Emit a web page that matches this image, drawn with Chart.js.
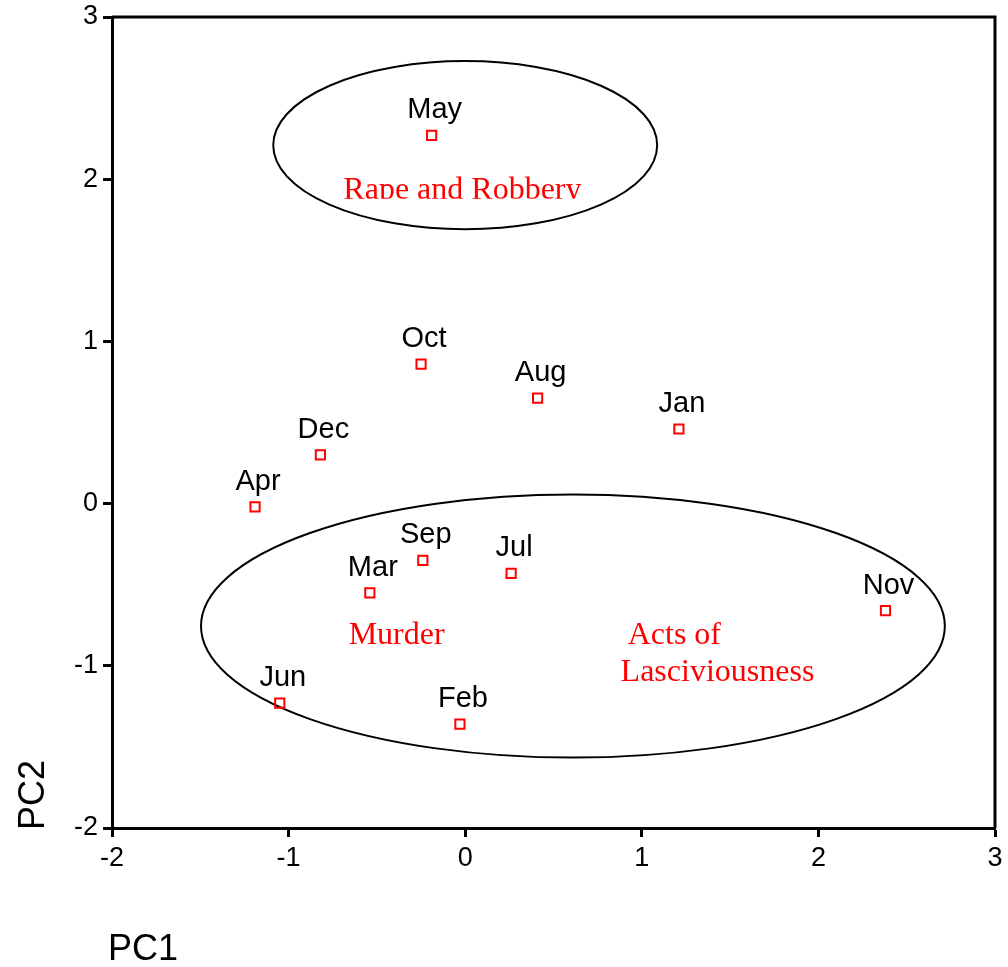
<!DOCTYPE html>
<html>
<head>
<meta charset="utf-8">
<script src="https://cdn.jsdelivr.net/npm/chart.js@4"></script>
<style>
  html, body { margin: 0; padding: 0; background: #fff; }
  #wrap { position: relative; width: 1008px; height: 967px; }
</style>
</head>
<body>
<div id="wrap"><canvas id="pcaChart" width="1008" height="967"></canvas></div>
<script>
// scores on the first two principal components, one point per month
const months = ['May', 'Oct', 'Aug', 'Jan', 'Dec', 'Apr', 'Sep', 'Jul', 'Mar', 'Nov', 'Jun', 'Feb'];
const pc1 = [-0.19, -0.25, 0.41, 1.21, -0.82, -1.19, -0.24, 0.26, -0.54, 2.38, -1.05, -0.03];
const pc2 = [2.27, 0.86, 0.65, 0.46, 0.30, -0.02, -0.35, -0.43, -0.55, -0.66, -1.23, -1.36];

const xTicks = [-2, -1, 0, 1, 2, 3];
const yTicks = [-2, -1, 0, 1, 2, 3];

// group ellipses (data units)
const ellipseCx = [0, 0.61];
const ellipseCy = [2.21, -0.755];
const ellipseRx = [1.087, 2.106];
const ellipseRy = [0.518, 0.811];

// group labels, anchored at left / baseline in data units
const groupText = ['Rape and Robbery', 'Murder', 'Acts of', 'Lasciviousness'];
const groupX = [-0.69, -0.66, 0.92, 0.88];
const groupY = [1.88, -0.863, -0.863, -1.091];

const ellipsePlugin = {
  id: 'ellipses',
  beforeDatasetsDraw(chart) {
    const { ctx, scales: { x, y } } = chart;
    ctx.save();
    ctx.strokeStyle = '#000';
    ctx.lineWidth = 2;
    ellipseCx.forEach((cx, i) => {
      const px = x.getPixelForValue(cx);
      const py = y.getPixelForValue(ellipseCy[i]);
      const rx = x.getPixelForValue(cx + ellipseRx[i]) - px;
      const ry = py - y.getPixelForValue(ellipseCy[i] + ellipseRy[i]);
      ctx.beginPath();
      ctx.ellipse(px, py, rx, ry, 0, 0, Math.PI * 2);
      ctx.stroke();
    });

    ctx.fillStyle = '#ff0000';
    ctx.font = '32px "Liberation Serif", "Times New Roman", serif';
    ctx.textAlign = 'left';
    ctx.textBaseline = 'alphabetic';
    groupText.forEach((t, i) => {
      const px = x.getPixelForValue(groupX[i]);
      const py = y.getPixelForValue(groupY[i]);
      ctx.save();
      if (i === 0) {
        // the original label box cuts the text off at its baseline
        ctx.beginPath();
        ctx.rect(px - 5, py - 40, 400, 40);
        ctx.clip();
      }
      ctx.fillText(t, px, py);
      ctx.restore();
    });
    ctx.restore();
  },
  afterDatasetsDraw(chart) {
    const { ctx, chartArea: a } = chart;
    const meta = chart.getDatasetMeta(0);
    ctx.save();
    ctx.fillStyle = '#000';
    ctx.font = '29px "Liberation Sans", Arial, sans-serif';
    ctx.textAlign = 'center';
    ctx.textBaseline = 'alphabetic';
    meta.data.forEach((pt, i) => {
      ctx.fillText(months[i], pt.x + 3, pt.y - 17);
    });

    // box top and right
    ctx.strokeStyle = '#000';
    ctx.lineWidth = 3;
    ctx.beginPath();
    ctx.moveTo(a.left, a.top);
    ctx.lineTo(a.right, a.top);
    ctx.lineTo(a.right, a.bottom);
    ctx.stroke();

    // axis titles
    ctx.font = '36px "Liberation Sans", Arial, sans-serif';
    ctx.textAlign = 'left';
    ctx.fillText('PC1', 108, 960);
    ctx.translate(44, 830);
    ctx.rotate(-Math.PI / 2);
    ctx.fillText('PC2', 0, 0);
    ctx.restore();
  }
};

const tickFont = { family: '"Liberation Sans", Arial, sans-serif', size: 27 };

const ctx = document.getElementById('pcaChart').getContext('2d');
new Chart(ctx, {
  type: 'scatter',
  data: {
    datasets: [{
      data: pc1.map((v, i) => ({ x: v, y: pc2[i] })),
      pointStyle: 'rect',
      pointRadius: 6.5,
      pointHoverRadius: 6.5,
      borderColor: '#ff0000',
      backgroundColor: 'rgba(255,255,255,0)',
      borderWidth: 2
    }]
  },
  options: {
    responsive: false,
    animation: false,
    events: [],
    layout: { padding: { top: 17, right: 13, left: 0, bottom: 0 } },
    plugins: {
      legend: { display: false },
      tooltip: { enabled: false }
    },
    scales: {
      x: {
        type: 'linear',
        min: -2,
        max: 3,
        afterBuildTicks: s => { s.ticks = xTicks.map(v => ({ value: v })); },
        afterFit: s => { s.height = 139; s.paddingLeft = 0; s.paddingRight = 0; },
        border: { display: true, color: '#000', width: 3 },
        grid: { drawOnChartArea: false, drawTicks: true, tickLength: 9, tickColor: '#000', tickWidth: 3 },
        ticks: { color: '#000', padding: 5, font: tickFont }
      },
      y: {
        type: 'linear',
        min: -2,
        max: 3,
        afterBuildTicks: s => { s.ticks = yTicks.map(v => ({ value: v })); },
        afterFit: s => { s.width = 112; s.paddingTop = 0; s.paddingBottom = 0; },
        border: { display: true, color: '#000', width: 3 },
        grid: { drawOnChartArea: false, drawTicks: true, tickLength: 9, tickColor: '#000', tickWidth: 3 },
        ticks: { color: '#000', padding: 5, font: tickFont }
      }
    }
  },
  plugins: [ellipsePlugin]
});
</script>
</body>
</html>
